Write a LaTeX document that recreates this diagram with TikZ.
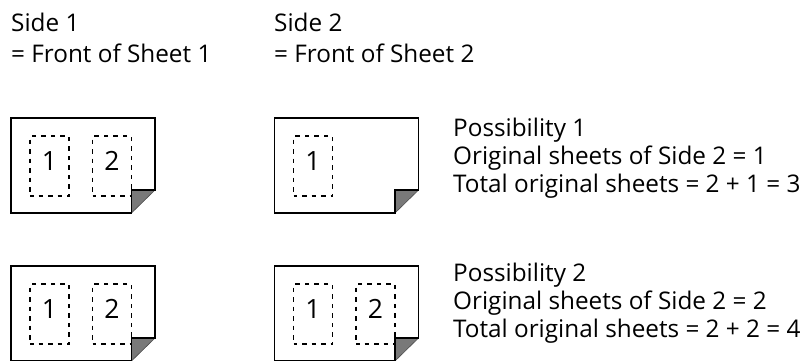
\documentclass[tikz,border=0pt]{standalone}
\usepackage{fontspec}
\setmainfont{Open Sans}
\usetikzlibrary{calc}
\begin{document}
\begin{tikzpicture}[x=1pt,y=-1pt,
  txt/.style={anchor=base west, inner sep=0pt, font=\fontsize{24.3}{29}\selectfont},
  digit/.style={anchor=base, inner sep=0pt, font=\fontsize{26.5}{30}\selectfont},
  sheetline/.style={line width=1.8pt, line join=miter},
  pagebox/.style={draw, line width=1.6pt, dash pattern=on 4.5pt off 5pt, dash phase=1pt, minimum width=39pt, minimum height=60pt, inner sep=0pt},
  sheet/.pic={
    \fill[fill=gray!95!black] (120.5,72) -- (144,72) -- (120.5,95) -- cycle;
    \draw[line width=0.6pt, black!70] (144,72) -- (120.5,95);
    \draw[sheetline] (0,95) -- (0,0) -- (144,0) -- (144,72) -- (120.5,72) -- (120.5,95) -- cycle;
  }]
\useasboundingbox (0,0) rectangle (810,360);

% headers
\node[txt] (h1a) at (11,31.5) {Side 1};
\node[txt] (h1b) at (11,62) {= Front of Sheet 1};
\node[txt] (h2a) at (274,31.5) {Side 2};
\node[txt] (h2b) at (274,62) {= Front of Sheet 2};

% sheets
\pic at (11,118) {sheet};
\pic at (274.5,118) {sheet};
\pic at (11,266) {sheet};
\pic at (274.5,266) {sheet};

% page boxes, top row
\node[pagebox] (b11) at (49.5,166) {};
\node[pagebox] (b12) at (112,166) {};
\node[pagebox] (b21) at (313,166) {};
\node[digit] (d11) at ($(b11.center)+(0,4)$) {1};
\node[digit] (d12) at ($(b12.center)+(0,4)$) {2};
\node[digit] (d21) at ($(b21.center)+(0,4)$) {1};

% page boxes, bottom row
\node[pagebox] (c11) at (49.5,314) {};
\node[pagebox] (c12) at (112,314) {};
\node[pagebox] (c21) at (313,314) {};
\node[pagebox] (c22) at (375.5,314) {};
\node[digit] (e11) at ($(c11.center)+(0,4)$) {1};
\node[digit] (e12) at ($(c12.center)+(0,4)$) {2};
\node[digit] (e21) at ($(c21.center)+(0,4)$) {1};
\node[digit] (e22) at ($(c22.center)+(0,4)$) {2};

% possibility texts
\node[txt] (p1a) at (453,136) {Possibility 1};
\node[txt] (p1b) at (453,164.5) {Original sheets of Side 2 = 1};
\node[txt] (p1c) at (453,192.5) {Total original sheets = 2 + 1 = 3};
\node[txt] (p2a) at (453,281) {Possibility 2};
\node[txt] (p2b) at (453,309) {Original sheets of Side 2 = 2};
\node[txt] (p2c) at (453,337) {Total original sheets = 2 + 2 = 4};
\end{tikzpicture}
\end{document}
